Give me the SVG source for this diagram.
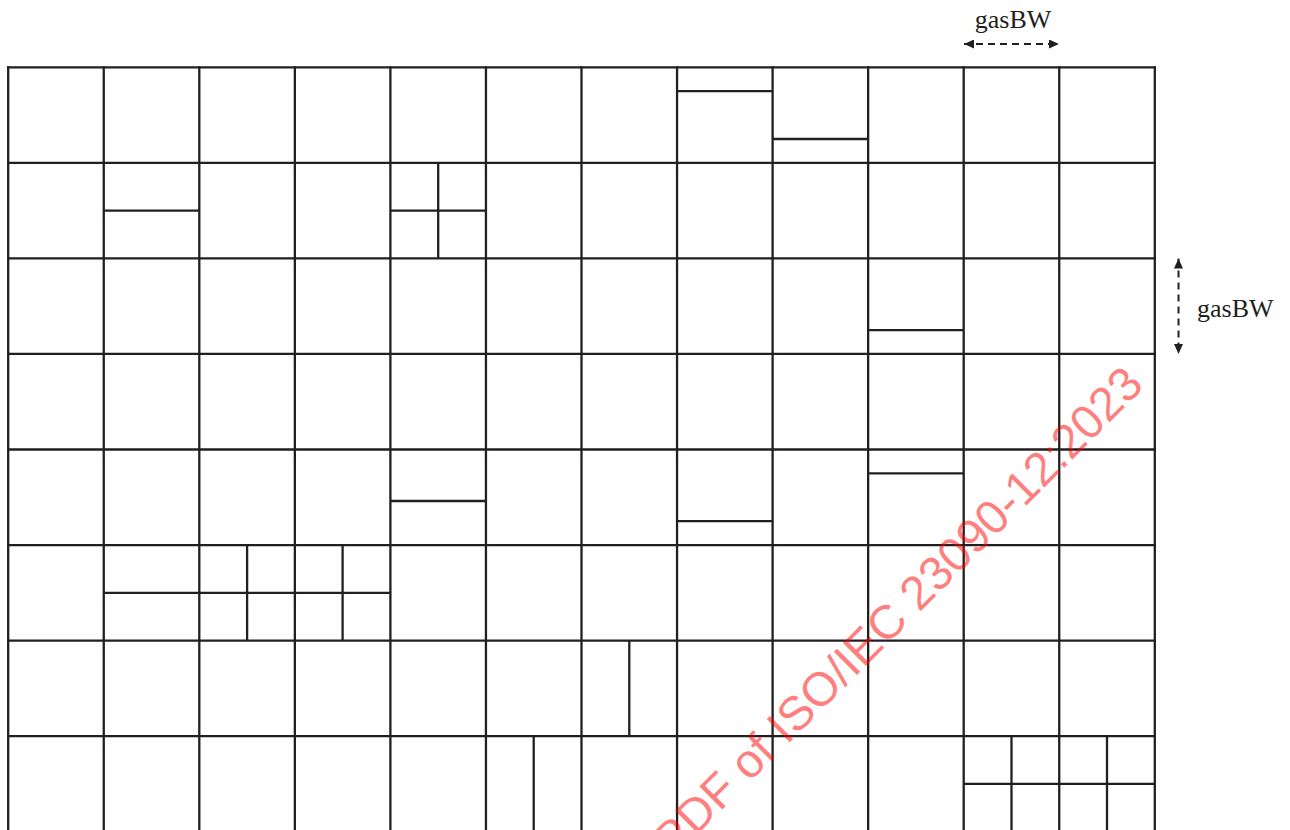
<svg xmlns="http://www.w3.org/2000/svg" width="1290" height="830" viewBox="0 0 1290 830">
  <style>
    .grid { fill: none; stroke: #231f20; stroke-width: 2.3; stroke-linecap: square; }
    .split { fill: none; stroke: #231f20; stroke-width: 2.3; stroke-linecap: butt; }
    .dim { fill: none; stroke: #231f20; stroke-width: 2; stroke-dasharray: 7 5; }
    .lbl { font-family: "Liberation Serif", "Times New Roman", serif; font-size: 26px; fill: #231f20; }
    .wm { font-family: "Liberation Sans", Arial, sans-serif; font-size: 47.5px; fill: #ff0000; fill-opacity: 0.5; }
  </style>
  <defs>
    <marker id="arr" viewBox="0 0 10 9" refX="10" refY="4.5" markerWidth="10" markerHeight="9" markerUnits="userSpaceOnUse" orient="auto-start-reverse">
      <path d="M0,0 L10,4.5 L0,9 Z" fill="#231f20"/>
    </marker>
  </defs>
  <rect x="0" y="0" width="1290" height="830" fill="#ffffff"/>

  <g id="grid" class="grid">
    <path d="M8.2,67.3 V840 M103.75,67.3 V840 M199.3,67.3 V840 M294.85,67.3 V840 M390.4,67.3 V840 M485.95,67.3 V840 M581.5,67.3 V840 M677.05,67.3 V840 M772.6,67.3 V840 M868.15,67.3 V840 M963.7,67.3 V840 M1059.25,67.3 V840 M1154.8,67.3 V840"/>
    <path d="M8.2,67.3 H1154.8 M8.2,162.85 H1154.8 M8.2,258.4 H1154.8 M8.2,353.95 H1154.8 M8.2,449.5 H1154.8 M8.2,545.05 H1154.8 M8.2,640.6 H1154.8 M8.2,736.15 H1154.8 M8.2,831.7 H1154.8"/>
  </g>

  <g id="splits" class="split">
    <path d="M677.05,91.2 H772.6"/>
    <path d="M772.6,139 H868.15"/>
    <path d="M103.75,210.6 H199.3"/>
    <path d="M390.4,210.6 H485.95 M438.2,162.85 V258.4"/>
    <path d="M868.15,330.1 H963.7"/>
    <path d="M390.4,501 H485.95"/>
    <path d="M677.05,521.2 H772.6"/>
    <path d="M868.15,473.4 H963.7"/>
    <path d="M103.75,592.8 H390.4 M247.1,545.05 V640.6 M342.6,545.05 V640.6"/>
    <path d="M629.3,640.6 V736.15"/>
    <path d="M533.7,736.15 V840"/>
    <path d="M963.7,783.9 H1154.8 M1011.5,736.15 V840 M1107,736.15 V840"/>
  </g>

  <g id="connectors">
    <line class="dim" x1="964" y1="44" x2="1059" y2="44" marker-start="url(#arr)" marker-end="url(#arr)"/>
    <line class="dim" x1="1178.5" y1="258.5" x2="1178.5" y2="354" marker-start="url(#arr)" marker-end="url(#arr)"/>
  </g>

  <g id="labels">
    <text class="lbl" x="1013" y="28" text-anchor="middle">gasBW</text>
    <text class="lbl" x="1197" y="317">gasBW</text>
  </g>

  <text class="wm" x="673" y="859" transform="rotate(-45 673 859)">PDF of ISO/IEC 23090-12:2023</text>
</svg>
